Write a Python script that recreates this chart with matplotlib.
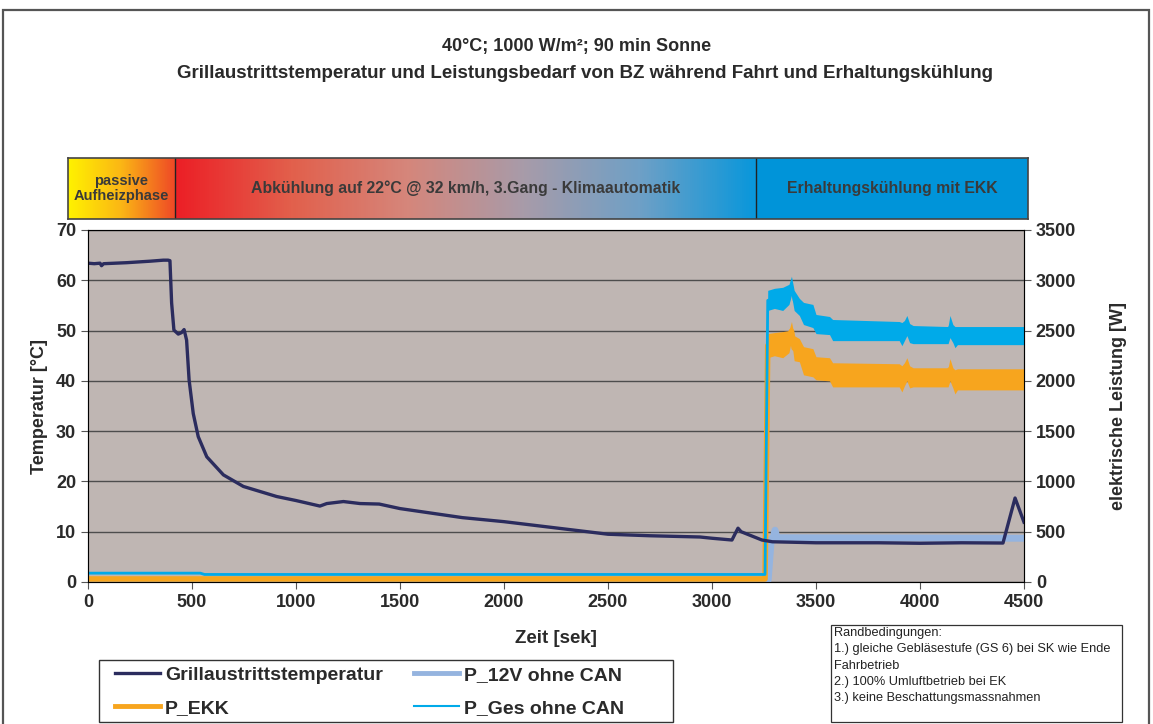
import numpy as np
import matplotlib
matplotlib.use("Agg")
import matplotlib.pyplot as plt
from matplotlib.colors import LinearSegmentedColormap, to_rgb
from matplotlib.lines import Line2D
from matplotlib.patches import Rectangle

plt.rcParams['font.family'] = ['Liberation Sans', 'DejaVu Sans']

# Grillaustrittstemperatur [°C]
t_temp = [0, 30, 58, 65, 75, 186, 300, 362, 385, 394, 402, 413, 434, 450, 462, 474,
          486, 506, 530, 571, 651, 747, 907, 1000, 1115, 1148, 1228, 1308, 1400, 1500,
          1600, 1800, 2000, 2200, 2400, 2500, 2700, 2942, 3000, 3096, 3110, 3125, 3140,
          3240, 3290, 3500, 3800, 4000, 4200, 4399, 4457, 4500]
temp = [63.4, 63.3, 63.4, 62.9, 63.3, 63.5, 63.8, 64.0, 64.0, 63.9, 55.5, 50.1, 49.3,
        49.6, 50.2, 48.1, 40.2, 33.5, 28.9, 24.9, 21.3, 19.0, 17.0, 16.2, 15.1, 15.6,
        16.0, 15.6, 15.5, 14.6, 14.0, 12.8, 12.0, 11.0, 10.0, 9.5, 9.2, 8.95, 8.7, 8.35,
        9.5, 10.7, 10.0, 8.35, 8.0, 7.8, 7.8, 7.7, 7.8, 7.75, 16.7, 11.9]

# power before the switch to EKK [W]
t_pre = [0, 540, 560, 3255]
ges_pre = [88, 88, 75, 75]
ekk_pre = [30, 30, 30, 30]

# power band (min / max) after the switch [W]
t_post = [3268, 3300, 3340, 3370, 3382, 3395, 3420, 3440, 3485, 3500, 3565, 3580,
          3900, 3913, 3925, 3937, 3950, 3967, 4135, 4144, 4158, 4168, 4180, 4500]
ges_lo = [2700, 2720, 2700, 2760, 2850, 2700, 2650, 2560, 2530, 2470, 2460, 2400,
          2400, 2350, 2400, 2450, 2380, 2370, 2370, 2430, 2380, 2330, 2360, 2360]
ges_hi = [2900, 2920, 2930, 2960, 3040, 2900, 2820, 2780, 2760, 2660, 2640, 2610,
          2590, 2580, 2600, 2650, 2570, 2550, 2540, 2650, 2560, 2540, 2540, 2540]
ekk_lo = [2230, 2250, 2230, 2280, 2400, 2200, 2190, 2060, 2040, 2010, 2000, 1940,
          1940, 1890, 1950, 2000, 1930, 1940, 1940, 2000, 1930, 1870, 1910, 1910]
ekk_hi = [2470, 2480, 2490, 2500, 2590, 2450, 2420, 2340, 2320, 2240, 2230, 2180,
          2170, 2150, 2180, 2230, 2150, 2130, 2130, 2220, 2130, 2110, 2120, 2120]

# P_12V ohne CAN [W]
t_12v = [0, 3270, 3285, 3295, 3303, 3312, 4500]
p_12v = [20, 20, 430, 440, 515, 440, 435]

phases = ["passive\nAufheizphase",
          "Abkühlung auf 22°C @ 32 km/h, 3.Gang - Klimaautomatik",
          "Erhaltungskühlung mit EKK"]
notes = ["Randbedingungen:",
         "1.) gleiche Gebläsestufe (GS 6) bei SK wie Ende",
         "Fahrbetrieb",
         "2.) 100% Umluftbetrieb bei EK",
         "3.) keine Beschattungsmassnahmen"]

c_temp = '#2b2c5e'
c_ekk = '#f7a51e'
c_ges = '#00aae9'
c_12v = '#95b4df'
c_text = '#2a2a2a'

W, H = 1153, 724
fig = plt.figure(figsize=(W / 100, H / 100), dpi=100)

def fx(px):
    return px / W

def fy(py):
    return 1 - py / H

# outer frame
fig.add_artist(Rectangle((fx(3), fy(740)), fx(1146), 730 / H, transform=fig.transFigure,
                         fill=False, edgecolor='#555555', lw=1.6))

fig.text(fx(577), fy(47), "40°C; 1000 W/m²; 90 min Sonne", ha='center', va='center',
         fontsize=13, fontweight='bold', color=c_text)
fig.text(fx(585), fy(73), "Grillaustrittstemperatur und Leistungsbedarf von BZ während Fahrt und Erhaltungskühlung",
         ha='center', va='center', fontsize=13.5, fontweight='bold', color=c_text)

# phase band
axb = fig.add_axes([fx(68), fy(219), fx(960), 61 / H])
band_w = 960
x1, x2 = 107, 688

def grad(stops, n):
    cm = LinearSegmentedColormap.from_list('g', stops)
    return cm(np.linspace(0, 1, n))[:, :3]

img = np.vstack([
    grad(['#fff200', '#fbb615', '#ef4a26'], x1),
    grad(['#ec1f26', '#e2604c', '#d5867b', '#a89ba9', '#6fa0c6', '#0a97db'], x2 - x1),
    np.tile(to_rgb('#0094d9'), (band_w - x2, 1)),
])
axb.imshow(img[np.newaxis, :, :], aspect='auto', extent=(0, band_w, 0, 1))
axb.set_xlim(0, band_w)
axb.set_ylim(0, 1)
axb.set_xticks([])
axb.set_yticks([])
for s in axb.spines.values():
    s.set_color('#444444')
    s.set_linewidth(1.2)
axb.axvline(x1, color='#222222', lw=1)
axb.axvline(x2, color='#222222', lw=1)
axb.text(x1 / 2, 0.5, phases[0], ha='center', va='center', fontsize=10.5,
         fontweight='bold', color='#3a3a3a', linespacing=1.15)
axb.text((x1 + x2) / 2, 0.5, phases[1], ha='center', va='center', fontsize=11.4,
         fontweight='bold', color='#3a3a3a')
axb.text((x2 + band_w) / 2, 0.5, phases[2], ha='center', va='center', fontsize=11.4,
         fontweight='bold', color='#3a3a3a')

# main axes
ax = fig.add_axes([fx(88), fy(582), fx(936), 352 / H])
ax.set_facecolor('#bfb6b3')
ax.set_xlim(0, 4500)
ax.set_ylim(0, 70)
ax.set_xticks(np.arange(0, 4501, 500))
ax.set_yticks(np.arange(0, 71, 10))
ax.grid(axis='y', color='#4d4d4d', lw=1)
ax.set_axisbelow(True)
ax.tick_params(labelsize=13, length=5, color='#555555', labelcolor=c_text)
for lab in ax.get_xticklabels() + ax.get_yticklabels():
    lab.set_fontweight('bold')
for s in ax.spines.values():
    s.set_color('#666666')
ax.set_ylabel("Temperatur [°C]", fontsize=13, fontweight='bold', color=c_text, labelpad=6)
ax.set_xlabel("Zeit [sek]", fontsize=13.5, fontweight='bold', color=c_text, labelpad=14)

ax2 = ax.twinx()
ax2.set_ylim(0, 3500)
ax2.set_yticks(np.arange(0, 3501, 500))
ax2.tick_params(labelsize=13, length=5, color='#555555', labelcolor=c_text)
for lab in ax2.get_yticklabels():
    lab.set_fontweight('bold')
ax2.set_ylabel("elektrische Leistung [W]", fontsize=13, fontweight='bold',
               color=c_text, labelpad=24)

t_all = np.array(t_pre + t_post)
g_lo = np.array(ges_pre + ges_lo)
g_hi = np.array(ges_pre + ges_hi)
e_lo = np.array(ekk_pre + ekk_lo)
e_hi = np.array(ekk_pre + ekk_hi)

ax2.plot(t_12v, p_12v, color=c_12v, lw=5)
ax2.fill_between(t_all, e_lo, e_hi, color=c_ekk, lw=0)
ax2.plot(t_all, (e_lo + e_hi) / 2, color=c_ekk, lw=4)
ax2.fill_between(t_all, g_lo, g_hi, color=c_ges, lw=0)
ax2.plot(t_all, (g_lo + g_hi) / 2, color=c_ges, lw=2)
ax2.plot(t_temp, np.array(temp) * 50, color=c_temp, lw=2.4)

# legend
fig.add_artist(Rectangle((fx(99), fy(722)), fx(574), 62 / H, transform=fig.transFigure,
                         fill=False, edgecolor='#333333', lw=1))
handles = [Line2D([], [], color=c_temp, lw=2.4),
           Line2D([], [], color=c_ekk, lw=3.5),
           Line2D([], [], color=c_12v, lw=3.5),
           Line2D([], [], color=c_ges, lw=1.5)]
labels = ["Grillaustrittstemperatur", "P_EKK", "P_12V ohne CAN", "P_Ges ohne CAN"]
leg = fig.legend(handles, labels, ncol=2, loc='upper left',
                 bbox_to_anchor=(fx(115), fy(666)), frameon=False,
                 handlelength=2.3, handletextpad=0.27, borderpad=0, borderaxespad=0,
                 labelspacing=0.8, columnspacing=1.6,
                 prop={'size': 14, 'weight': 'bold'})
for txt in leg.get_texts():
    txt.set_color(c_text)

# notes box
fig.add_artist(Rectangle((fx(831), fy(722)), fx(291), 97 / H, transform=fig.transFigure,
                         fill=False, edgecolor='#333333', lw=0.9))
for i, line in enumerate(notes):
    fig.text(fx(834), fy(633 + i * 16.3), line, ha='left', va='center', fontsize=9.2,
             color='#222222')

fig.savefig("out.png", dpi=100)
